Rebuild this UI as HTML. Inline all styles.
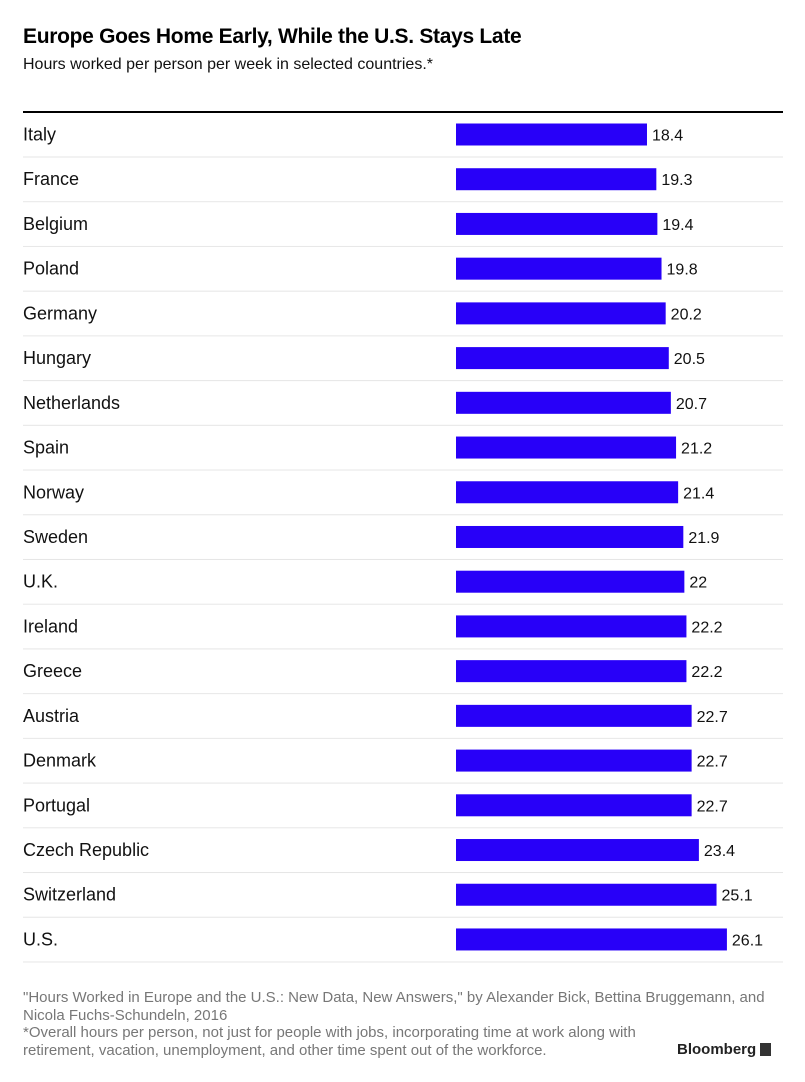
<!DOCTYPE html>
<html><head><meta charset="utf-8"><style>
body{margin:0;background:#fff;width:805px;height:1082px;overflow:hidden;font-family:"Liberation Sans",sans-serif}
#t{position:absolute;left:23px;top:25px;font-size:21px;font-weight:bold;color:#000;letter-spacing:-0.3px}
#s{position:absolute;left:23px;top:56px;font-size:16px;color:#111}
#f{position:absolute;left:23px;top:989px;font-size:15px;color:#777;line-height:17.5px;white-space:nowrap;letter-spacing:0}
#b{position:absolute;left:677px;top:1041px;font-size:15px;font-weight:bold;color:#222}
</style></head><body>
<div id="t">Europe Goes Home Early, While the U.S. Stays Late</div>
<div id="s">Hours worked per person per week in selected countries.*</div>
<svg id="c" width="805" height="1082" style="position:absolute;left:0;top:0"></svg>
<div id="f">"Hours Worked in Europe and the U.S.: New Data, New Answers," by Alexander Bick, Bettina Bruggemann, and<br>Nicola Fuchs-Schundeln, 2016<br>*Overall hours per person, not just for people with jobs, incorporating time at work along with<br>retirement, vacation, unemployment, and other time spent out of the workforce.</div>
<div id="b">Bloomberg <span style="display:inline-block;width:11px;height:13px;background:#333;vertical-align:-2px"></span></div>
<script>
const countries=["Italy","France","Belgium","Poland","Germany","Hungary","Netherlands","Spain","Norway","Sweden","U.K.","Ireland","Greece","Austria","Denmark","Portugal","Czech Republic","Switzerland","U.S."];
const hours=[18.4,19.3,19.4,19.8,20.2,20.5,20.7,21.2,21.4,21.9,22,22.2,22.2,22.7,22.7,22.7,23.4,25.1,26.1];
const labels=["18.4","19.3","19.4","19.8","20.2","20.5","20.7","21.2","21.4","21.9","22","22.2","22.2","22.7","22.7","22.7","23.4","25.1","26.1"];
const svgEl=document.getElementById('c');const NS='http://www.w3.org/2000/svg';
const x0=456,k=10.38,y0=112.5,step=44.72;
function xs(v){return x0+v*k}
function yc(i){return y0+22+i*step}
function mk(t,a){const e=document.createElementNS(NS,t);for(const n in a)e.setAttribute(n,a[n]);svgEl.appendChild(e);return e}
const topRule=mk('rect',{x:23,y:111,width:760,height:2,fill:'#000'});


countries.forEach((c,i)=>{
 const y=yc(i);
 const sep=mk('rect',{x:23,y:y+22,width:760,height:1,fill:'#e6e6e6'});
 
 
 const l=mk('text',{x:23,y:y+6,'font-size':18,fill:'#111'});l.textContent=c;
 
 
 const r=mk('rect',{x:x0,y:y-11,width:xs(hours[i])-x0,height:22,fill:'#2800f8'});
 
 
 const v=mk('text',{x:xs(hours[i])+5,y:y+6,'font-size':16,fill:'#111'});v.textContent=labels[i];
 
 
});
</script>
</body></html>
